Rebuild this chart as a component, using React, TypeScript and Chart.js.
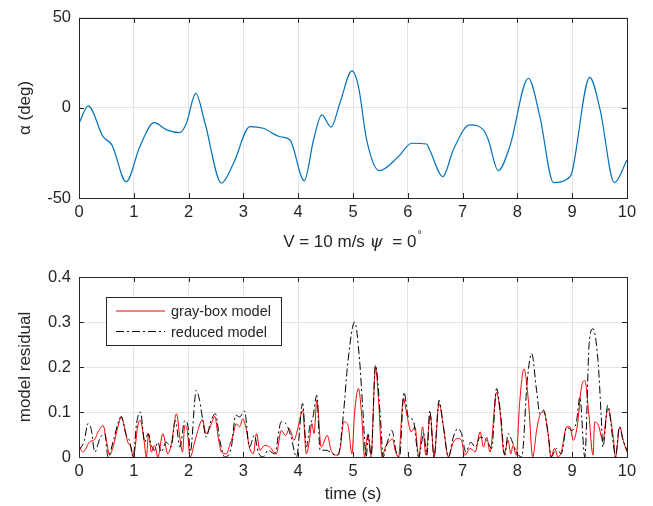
import React, { useEffect, useRef } from "react";
import { Chart, registerables } from "chart.js";

Chart.register(...registerables);

// ---------- data ----------
const alphaTime = [0, 0.17, 0.44, 0.6, 0.86, 1.11, 1.37, 1.6, 1.84, 1.96, 2.13, 2.3, 2.6, 2.82, 3.12, 3.36, 3.67, 3.85, 4.11, 4.28, 4.43, 4.6, 4.76, 4.98, 5.1, 5.25, 5.48, 5.83, 6.07, 6.34, 6.4, 6.64, 6.83, 7.13, 7.38, 7.47, 7.65, 7.86, 8.2, 8.41, 8.66, 8.9, 8.99, 9.32, 9.51, 9.77, 10];
const alphaDeg = [-8.5, 1.1, -16, -20.5, -41, -21.5, -8.2, -12.2, -13.7, -8.5, 8.1, -8.5, -41.8, -30.7, -10.4, -11.3, -16, -17.8, -40.4, -17.8, -3.9, -10.7, 2.6, 20.6, 11.9, -17.8, -34.8, -27, -19.6, -20, -23.3, -38.1, -23.3, -9.4, -12.2, -17.8, -34.8, -21.5, 16.5, -4.8, -41.5, -39.6, -36.3, 17, -1.1, -41.5, -28.9];

const grayBoxTime = [0, 0.07, 0.19, 0.29, 0.35, 0.44, 0.5, 0.56, 0.62, 0.71, 0.77, 0.83, 0.89, 0.95, 0.99, 1.08, 1.12, 1.18, 1.23, 1.27, 1.32, 1.38, 1.44, 1.53, 1.62, 1.68, 1.78, 1.84, 1.89, 1.93, 1.97, 2.03, 2.11, 2.17, 2.25, 2.32, 2.38, 2.48, 2.54, 2.6, 2.69, 2.75, 2.81, 2.87, 2.93, 2.99, 3.05, 3.11, 3.18, 3.24, 3.3, 3.39, 3.48, 3.6, 3.69, 3.77, 3.84, 3.92, 4.0, 4.08, 4.15, 4.2, 4.25, 4.29, 4.34, 4.42, 4.53, 4.6, 4.7, 4.77, 4.83, 4.91, 4.98, 5.03, 5.1, 5.16, 5.21, 5.27, 5.33, 5.41, 5.47, 5.53, 5.59, 5.68, 5.72, 5.77, 5.83, 5.92, 5.98, 6.06, 6.13, 6.2, 6.27, 6.33, 6.41, 6.48, 6.57, 6.65, 6.74, 6.83, 6.92, 6.98, 7.04, 7.14, 7.23, 7.32, 7.38, 7.44, 7.5, 7.62, 7.68, 7.76, 7.83, 7.88, 7.92, 7.98, 8.04, 8.12, 8.2, 8.28, 8.35, 8.41, 8.48, 8.56, 8.61, 8.68, 8.74, 8.8, 8.9, 8.96, 9.02, 9.09, 9.17, 9.23, 9.3, 9.38, 9.41, 9.48, 9.56, 9.65, 9.75, 9.79, 9.87, 9.93, 10];
const grayBoxResidual = [0.026, 0.011, 0.033, 0.04, 0.056, 0.07, 0.037, 0.004, 0.022, 0.067, 0.089, 0.067, 0.033, 0.022, 0, 0.074, 0.081, 0.044, 0, 0.052, 0.011, 0.026, 0, 0.052, 0.007, 0.026, 0.096, 0.044, 0.011, 0.07, 0.063, 0, 0.033, 0.059, 0.083, 0.052, 0.063, 0.09, 0.044, 0.011, 0.007, 0.026, 0.048, 0.074, 0.067, 0.085, 0.063, 0.022, 0.007, 0.052, 0.015, 0.026, 0.022, 0.007, 0.059, 0.048, 0.063, 0.037, 0.067, 0.104, 0.007, 0.033, 0.074, 0.052, 0.126, 0.022, 0.048, 0.015, 0.004, 0.022, 0.078, 0.07, 0.007, 0.1, 0.152, 0.09, 0, 0.05, 0.004, 0.2, 0.119, 0, 0.022, 0.037, 0.041, 0.015, 0, 0.13, 0.096, 0.056, 0.067, 0, 0.067, 0.004, 0.093, 0, 0.119, 0.067, 0, 0.033, 0.041, 0.037, 0.004, 0.019, 0.011, 0.056, 0.022, 0.044, 0.011, 0.144, 0.104, 0.007, 0.037, 0.007, 0.026, 0.004, 0.119, 0.196, 0.126, 0, 0.059, 0.093, 0.1, 0.052, 0, 0.019, 0, 0.011, 0.067, 0.067, 0.037, 0.067, 0.156, 0.17, 0.1, 0.004, 0.078, 0.07, 0.037, 0.107, 0.044, 0, 0.067, 0.037, 0.011];

const reducedTime = [0, 0.1, 0.16, 0.22, 0.29, 0.38, 0.47, 0.53, 0.62, 0.71, 0.77, 0.86, 0.92, 0.99, 1.05, 1.12, 1.2, 1.26, 1.32, 1.38, 1.44, 1.5, 1.59, 1.68, 1.76, 1.84, 1.93, 1.99, 2.03, 2.14, 2.2, 2.26, 2.32, 2.41, 2.49, 2.57, 2.66, 2.78, 2.86, 2.93, 3.02, 3.11, 3.2, 3.27, 3.36, 3.45, 3.57, 3.69, 3.78, 3.87, 3.97, 4.08, 4.15, 4.21, 4.27, 4.34, 4.4, 4.51, 4.63, 4.73, 4.82, 4.91, 5.03, 5.12, 5.18, 5.24, 5.28, 5.33, 5.41, 5.5, 5.55, 5.62, 5.71, 5.79, 5.85, 5.93, 6.01, 6.1, 6.2, 6.29, 6.35, 6.4, 6.48, 6.57, 6.65, 6.74, 6.83, 6.91, 6.98, 7.06, 7.15, 7.23, 7.32, 7.44, 7.53, 7.62, 7.69, 7.77, 7.83, 7.91, 7.98, 8.08, 8.18, 8.26, 8.35, 8.41, 8.48, 8.56, 8.62, 8.71, 8.8, 8.9, 8.99, 9.08, 9.14, 9.23, 9.31, 9.38, 9.47, 9.53, 9.56, 9.65, 9.75, 9.79, 9.86, 9.93, 10];
const reducedResidual = [0.015, 0.037, 0.074, 0.063, 0.011, 0.041, 0.052, 0, 0.033, 0.074, 0.09, 0.048, 0.037, 0, 0.074, 0.1, 0.033, 0.052, 0.026, 0.015, 0.033, 0.011, 0.033, 0.022, 0.081, 0.022, 0.081, 0.067, 0.011, 0.148, 0.126, 0.081, 0.044, 0.081, 0.096, 0.037, 0, 0.022, 0.093, 0.089, 0.102, 0.022, 0.048, 0.011, 0, 0.015, 0.007, 0.078, 0.074, 0.044, 0, 0.119, 0.022, 0.067, 0.089, 0.137, 0.015, 0.015, 0.007, 0.004, 0.089, 0.215, 0.3, 0.215, 0.104, 0, 0.05, 0, 0.204, 0.089, 0, 0.03, 0.059, 0.011, 0, 0.144, 0.089, 0.081, 0, 0.052, 0.004, 0.104, 0, 0.126, 0.067, 0, 0.044, 0.063, 0.052, 0.011, 0.033, 0.022, 0.044, 0.037, 0.019, 0.152, 0.1, 0.004, 0.052, 0.033, 0.011, 0, 0.17, 0.23, 0.148, 0.096, 0.104, 0.052, 0, 0.019, 0.007, 0.067, 0.059, 0.081, 0.133, 0, 0.252, 0.285, 0.215, 0.089, 0.022, 0.115, 0.03, 0, 0.067, 0.037, 0.015];

const timeTicks = [0, 1, 2, 3, 4, 5, 6, 7, 8, 9, 10];
const alphaTicks = [-50, 0, 50];
const residualTicks = [0, 0.1, 0.2, 0.3, 0.4];

const seriesNames = ["gray-box model", "reduced model"];
const topXTitle = { pre: "V = 10 m/s ", sym: "\u03C8", post: "  = 0", deg: "\u00B0" };
const topYTitle = "\u03B1 (deg)";
const bottomXTitle = "time (s)";
const bottomYTitle = "model residual";

// ---------- styling ----------
const FONT = "'Liberation Sans', Arial, Helvetica, sans-serif";
const AXIS_COLOR = "#262626";
const GRID_COLOR = "#e3e3e3";
const RED = "#ff0000";
const BLACK = "#000000";
const BLUE = "#0072BD";
const DASHDOT = [8, 3, 2, 3];
const TICK_SIZE = 16.5;
const TITLE_SIZE = 17;

const toPoints = (xs: number[], ys: number[]) => xs.map((x, i) => ({ x, y: ys[i] }));
const fmt = (v: number) => String(Number(v.toFixed(2)));

const framePlugin = {
  id: "frame",
  afterDatasetsDraw(chart: any) {
    const { ctx, chartArea, scales } = chart;
    const { left, right, top, bottom } = chartArea;
    const L = 5;
    ctx.save();
    ctx.strokeStyle = AXIS_COLOR;
    ctx.lineWidth = 1;
    ctx.setLineDash([]);
    ctx.beginPath();
    scales.x.ticks.forEach((t: any) => {
      const px = Math.round(scales.x.getPixelForValue(t.value)) + 0.5;
      ctx.moveTo(px, bottom);
      ctx.lineTo(px, bottom - L);
      ctx.moveTo(px, top);
      ctx.lineTo(px, top + L);
    });
    scales.y.ticks.forEach((t: any) => {
      const py = Math.round(scales.y.getPixelForValue(t.value)) + 0.5;
      ctx.moveTo(left, py);
      ctx.lineTo(left + L, py);
      ctx.moveTo(right, py);
      ctx.lineTo(right - L, py);
    });
    ctx.stroke();
    ctx.strokeRect(Math.round(left) + 0.5, Math.round(top) + 0.5, Math.round(right - left), Math.round(bottom - top));
    ctx.restore();
  },
};

const topTitlePlugin = {
  id: "topTitle",
  afterDraw(chart: any) {
    const { ctx } = chart;
    const y = 242;
    ctx.save();
    ctx.fillStyle = AXIS_COLOR;
    ctx.textBaseline = "middle";
    ctx.textAlign = "left";
    const sans = `${TITLE_SIZE}px ${FONT}`;
    const serifIt = `italic 17px 'DejaVu Serif', 'Liberation Serif', serif`;
    const degFont = `11px ${FONT}`;
    ctx.font = sans;
    const w1 = ctx.measureText(topXTitle.pre).width;
    ctx.font = serifIt;
    const w2 = ctx.measureText(topXTitle.sym).width;
    ctx.font = sans;
    const w3 = ctx.measureText(topXTitle.post).width;
    ctx.font = degFont;
    const w4 = ctx.measureText(topXTitle.deg).width;
    const total = w1 + w2 + w3 + w4;
    let x = 352 - total / 2;
    ctx.font = sans;
    ctx.fillText(topXTitle.pre, x, y);
    x += w1;
    ctx.font = serifIt;
    ctx.fillText(topXTitle.sym, x, y + 1);
    x += w2;
    ctx.font = sans;
    ctx.fillText(topXTitle.post, x, y);
    x += w3;
    ctx.font = degFont;
    ctx.fillText(topXTitle.deg, x + 1, y - 7);
    ctx.restore();
  },
};

const legendPlugin = {
  id: "boxLegend",
  afterDraw(chart: any) {
    const { ctx } = chart;
    const bx = 106.5, by = 44.5, bw = 175, bh = 48;
    ctx.save();
    ctx.fillStyle = "#ffffff";
    ctx.fillRect(bx, by, bw, bh);
    ctx.strokeStyle = AXIS_COLOR;
    ctx.lineWidth = 1;
    ctx.strokeRect(bx, by, bw, bh);
    const rows = [
      { y: 58, color: RED, dash: [] as number[] },
      { y: 78.5, color: BLACK, dash: DASHDOT },
    ];
    rows.forEach((r, i) => {
      ctx.beginPath();
      ctx.strokeStyle = r.color;
      ctx.setLineDash(r.dash);
      ctx.moveTo(116, r.y);
      ctx.lineTo(165, r.y);
      ctx.stroke();
      ctx.setLineDash([]);
      ctx.fillStyle = AXIS_COLOR;
      ctx.font = `14.5px ${FONT}`;
      ctx.textBaseline = "middle";
      ctx.textAlign = "left";
      ctx.fillText(seriesNames[i], 171, r.y + 1);
    });
    ctx.restore();
  },
};

const tickFont = { family: FONT, size: TICK_SIZE };

function makeScales(yMin: number, yMax: number, yTicks: number[], yTitle: string, xHeight: number, xTitle: string | null) {
  return {
    x: {
      type: "linear",
      min: 0,
      max: 10,
      afterBuildTicks: (s: any) => {
        s.ticks = timeTicks.map((v) => ({ value: v }));
      },
      afterFit: (s: any) => {
        s.height = xHeight;
      },
      ticks: { font: tickFont, color: AXIS_COLOR, padding: 5, maxRotation: 0, autoSkip: false, callback: (v: any) => fmt(Number(v)) },
      grid: { color: GRID_COLOR, drawTicks: false, lineWidth: 1 },
      border: { display: false },
      title: xTitle
        ? { display: true, text: xTitle, font: { family: FONT, size: TITLE_SIZE }, color: AXIS_COLOR, padding: { top: 0, bottom: 1 } }
        : { display: false },
    },
    y: {
      type: "linear",
      min: yMin,
      max: yMax,
      afterBuildTicks: (s: any) => {
        s.ticks = yTicks.map((v) => ({ value: v }));
      },
      afterFit: (s: any) => {
        s.width = 79;
      },
      ticks: { font: tickFont, color: AXIS_COLOR, padding: 8, autoSkip: false, callback: (v: any) => fmt(Number(v)) },
      grid: { color: GRID_COLOR, drawTicks: false, lineWidth: 1 },
      border: { display: false },
      title: { display: true, text: yTitle, font: { family: FONT, size: TITLE_SIZE }, color: AXIS_COLOR, padding: { top: 15, bottom: 0 } },
    },
  };
}

export default function App() {
  const topRef = useRef<HTMLCanvasElement | null>(null);
  const botRef = useRef<HTMLCanvasElement | null>(null);

  useEffect(() => {
    const top = new Chart(topRef.current as HTMLCanvasElement, {
      type: "line",
      data: {
        datasets: [
          {
            data: toPoints(alphaTime, alphaDeg),
            borderColor: BLUE,
            borderWidth: 1.2,
            pointRadius: 0,
            cubicInterpolationMode: "monotone",
            fill: false,
          },
        ],
      },
      options: {
        animation: false,
        responsive: false,
        events: [],
        layout: { padding: { top: 17, right: 26, left: 0, bottom: 0 } },
        plugins: { legend: { display: false }, tooltip: { enabled: false } },
        scales: makeScales(-50, 50, alphaTicks, topYTitle, 55, null) as any,
      },
      plugins: [framePlugin, topTitlePlugin],
    } as any);

    const bot = new Chart(botRef.current as HTMLCanvasElement, {
      type: "line",
      data: {
        datasets: [
          {
            label: seriesNames[1],
            data: toPoints(reducedTime, reducedResidual),
            borderColor: BLACK,
            borderWidth: 1,
            borderDash: DASHDOT,
            pointRadius: 0,
            cubicInterpolationMode: "monotone",
            fill: false,
          },
          {
            label: seriesNames[0],
            data: toPoints(grayBoxTime, grayBoxResidual),
            borderColor: RED,
            borderWidth: 1,
            pointRadius: 0,
            cubicInterpolationMode: "monotone",
            fill: false,
          },
        ],
      },
      options: {
        animation: false,
        responsive: false,
        events: [],
        layout: { padding: { top: 24, right: 26, left: 0, bottom: 0 } },
        plugins: { legend: { display: false }, tooltip: { enabled: false } },
        scales: makeScales(0, 0.4, residualTicks, bottomYTitle, 49, bottomXTitle) as any,
      },
      plugins: [framePlugin, legendPlugin],
    } as any);

    return () => {
      top.destroy();
      bot.destroy();
    };
  }, []);

  return (
    <div style={{ position: "absolute", left: 0, top: 0, width: 653, height: 506, background: "#ffffff" }}>
      <canvas ref={topRef} width={653} height={253} style={{ position: "absolute", left: 0, top: 0, width: 653, height: 253 }} />
      <canvas ref={botRef} width={653} height={253} style={{ position: "absolute", left: 0, top: 253, width: 653, height: 253 }} />
    </div>
  );
}
